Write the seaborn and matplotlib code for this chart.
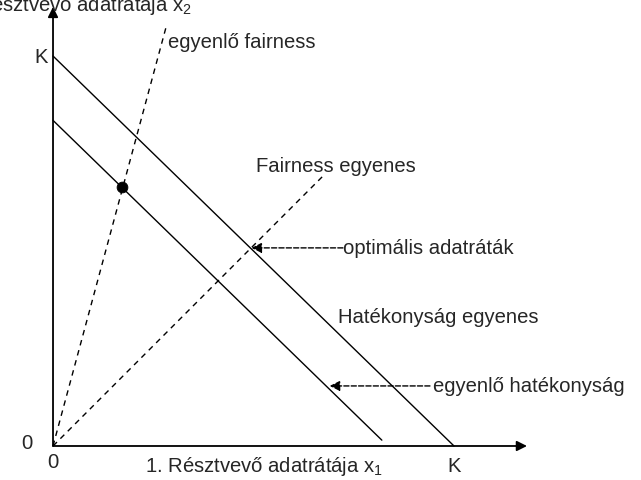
import matplotlib
matplotlib.use('Agg')
import matplotlib.pyplot as plt
import pandas as pd
import seaborn as sns

# hatékonyság egyenesek (x1 + x2 = állandó), K = 1
outer_x = [0.0, 1.0]
outer_y = [1.0, 0.0]
inner_x = [0.0, 0.82]
inner_y = [0.835, 0.015]
# fairness egyenes (szaggatott)
fair_x = [0.0, 0.673]
fair_y = [0.0, 0.692]
# egyenlő fairness (szaggatott, meredek)
eqfair_x = [0.0, 0.284]
eqfair_y = [0.0, 1.082]
# pont a belső egyenesen
dot_x = [0.172]
dot_y = [0.663]
# nyilak végpontjai
opt_point = (0.495, 0.508)
eqeff_point = (0.69, 0.154)

sns.set_style('white')
plt.rcParams['font.family'] = ['Liberation Sans', 'DejaVu Sans']
plt.rcParams['mathtext.fontset'] = 'custom'
plt.rcParams['mathtext.rm'] = 'Liberation Sans'
plt.rcParams['mathtext.it'] = 'Liberation Sans'

fs = 14.6
dash = (0, (4, 3.5))

fig = plt.figure(figsize=(6.41, 4.81), dpi=100)
ax = fig.add_axes([0, 0, 1, 1])
ax.set_xlim(-0.1322, 1.4663)
ax.set_ylim(-0.0872, 1.1462)
ax.axis('off')

lines = pd.DataFrame({
    'x': outer_x + inner_x,
    'y': outer_y + inner_y,
    'line': ['outer'] * 2 + ['inner'] * 2,
})
sns.lineplot(data=lines, x='x', y='y', units='line', estimator=None,
             color='black', lw=1.0, sort=False, ax=ax)
sns.lineplot(x=fair_x, y=fair_y, color='black', lw=1.0, ls=dash, ax=ax)
sns.lineplot(x=eqfair_x, y=eqfair_y, color='black', lw=1.0, ls=dash, ax=ax)
sns.scatterplot(x=dot_x, y=dot_y, color='black', s=60, edgecolor='black', zorder=5, ax=ax)

# tengelyek nyíllal
ax.annotate('', xy=(1.182, 0), xytext=(0, 0),
            arrowprops=dict(arrowstyle='-|>', color='black', lw=1.3,
                            mutation_scale=15, shrinkA=0, shrinkB=0))
ax.annotate('', xy=(0, 1.126), xytext=(0, 0),
            arrowprops=dict(arrowstyle='-|>', color='black', lw=1.3,
                            mutation_scale=15, shrinkA=0, shrinkB=0))

# szaggatott mutató nyilak
ax.annotate('', xy=opt_point, xytext=(0.723, opt_point[1]),
            arrowprops=dict(arrowstyle='-|>', color='black', lw=1.0, ls='--',
                            mutation_scale=15, shrinkA=0, shrinkB=0))
ax.annotate('', xy=eqeff_point, xytext=(0.94, eqeff_point[1]),
            arrowprops=dict(arrowstyle='-|>', color='black', lw=1.0, ls='--',
                            mutation_scale=15, shrinkA=0, shrinkB=0))

ax.text(0.287, 1.038, 'egyenlő fairness', fontsize=fs, ha='left', va='center')
ax.text(-0.012, 1.0, 'K', fontsize=fs, ha='right', va='center')
ax.text(0.506, 0.718, 'Fairness egyenes', fontsize=fs, ha='left', va='center')
ax.text(0.723, opt_point[1], 'optimális adatráták', fontsize=fs, ha='left', va='center')
ax.text(0.711, 0.331, 'Hatékonyság egyenes', fontsize=fs, ha='left', va='center')
ax.text(0.948, eqeff_point[1], 'egyenlő hatékonyság', fontsize=fs, ha='left', va='center')
ax.text(-0.065, 0.01, '0', fontsize=fs, ha='center', va='center')
ax.text(0.0, -0.041, '0', fontsize=fs, ha='center', va='center')
ax.text(0.229, -0.051, r'1. Résztvevő adatrátája x$_\mathrm{1}$', fontsize=fs, ha='left', va='center')
ax.text(1.0, -0.051, 'K', fontsize=fs, ha='center', va='center')
ax.text(0.347, 1.133, r'2. Résztvevő adatrátája x$_\mathrm{2}$', fontsize=fs, ha='right', va='center')

fig.savefig('out.png', dpi=100)
